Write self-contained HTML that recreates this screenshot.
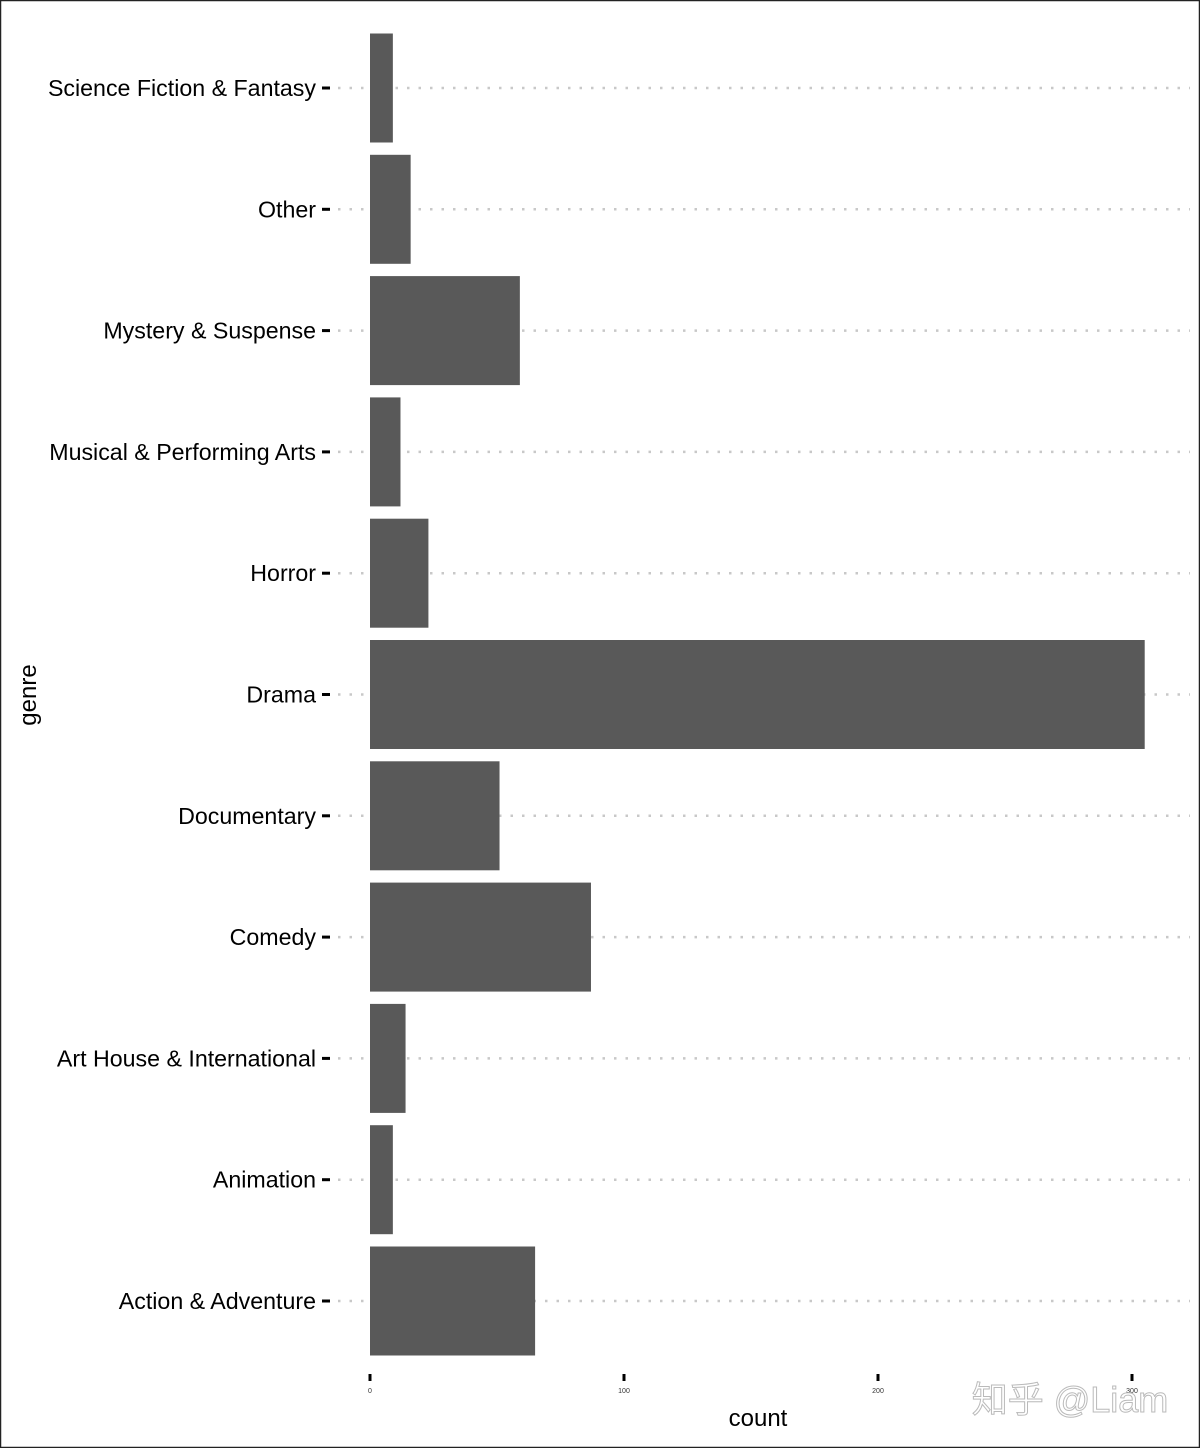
<!DOCTYPE html>
<html><head><meta charset="utf-8"><style>
html,body{margin:0;padding:0;background:#fff}
svg{display:block}
</style></head><body>
<svg id="chart" width="1200" height="1448" xmlns="http://www.w3.org/2000/svg" font-family="Liberation Sans, sans-serif">
<rect x="0.5" y="0.5" width="1199" height="1447" fill="#fff" stroke="#222" stroke-width="1.5"/>
<g id="grid"></g><g id="bars"></g><g id="yaxis"></g><g id="xaxis"></g>
<text x="758" y="1426" text-anchor="middle" font-size="24" fill="#000">count</text>
<text transform="translate(36,695) rotate(-90)" text-anchor="middle" font-size="24" fill="#000">genre</text>
<text x="1070" y="1412" text-anchor="middle" font-size="36" fill="#fff" stroke="#aaa" stroke-width="1" opacity="0.8" font-family="Liberation Sans, Noto Sans CJK SC, sans-serif">知乎 @Liam</text>
</svg>
<script>
const categories=["Action & Adventure","Animation","Art House & International","Comedy","Documentary","Drama","Horror","Musical & Performing Arts","Mystery & Suspense","Other","Science Fiction & Fantasy"];
const counts=[65,9,14,87,51,305,23,12,59,16,9];
const xTicks=[0,100,200,300];
const NS="http://www.w3.org/2000/svg";
const x0=370,pxPer=2.54;
function xs(v){return x0+v*pxPer;}
const yBottom=1301,step=121.3;
function ys(i){return yBottom-i*step;}
function mk(tag,attrs,parent){const e=document.createElementNS(NS,tag);for(const k in attrs)e.setAttribute(k,attrs[k]);document.getElementById(parent).appendChild(e);return e;}
categories.forEach((c,i)=>{
  const y=ys(i);
  const g=mk('line',{x1:338,x2:1190,y1:y,y2:y,stroke:'#c8c8c8','stroke-width':2.5,'stroke-dasharray':'2.5,9'},'grid');
  
  
  const b=mk('rect',{x:x0,y:y-54.5,width:xs(counts[i])-x0,height:109,fill:'#595959'},'bars');
  
  
  const t=mk('line',{x1:322,x2:330,y1:y,y2:y,stroke:'#000','stroke-width':3},'yaxis');
  
  
  const l=mk('text',{x:316,y:y+8,'text-anchor':'end','font-size':23.2,fill:'#000'},'yaxis');
  l.textContent=c;
  
  
});
xTicks.forEach(v=>{
  const x=xs(v);
  const t=mk('line',{x1:x,x2:x,y1:1374,y2:1381,stroke:'#000','stroke-width':3},'xaxis');
  
  
  const l=mk('text',{x:x,y:1393,'text-anchor':'middle','font-size':7,fill:'#333'},'xaxis');
  l.textContent=v;
  
  
});
</script>
</body></html>
